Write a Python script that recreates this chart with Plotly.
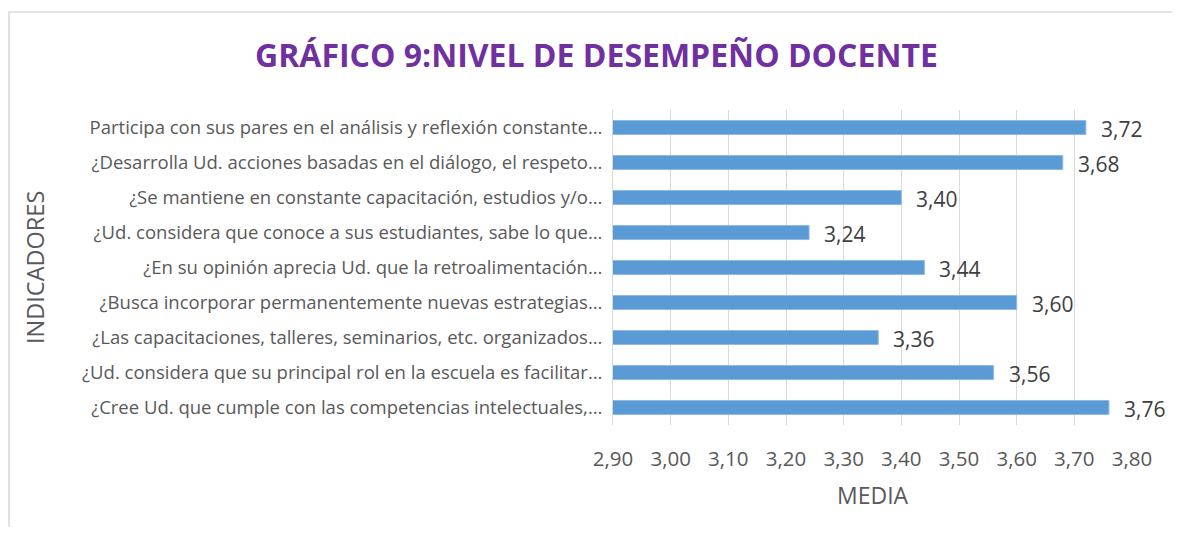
import plotly.graph_objects as go

categories = [
    "Participa con sus pares en el análisis y reflexión constante…",
    "¿Desarrolla Ud. acciones basadas en el diálogo, el respeto…",
    "¿Se mantiene en constante capacitación, estudios y/o…",
    "¿Ud. considera que conoce a sus estudiantes, sabe lo que…",
    "¿En su opinión aprecia Ud. que la retroalimentación…",
    "¿Busca incorporar permanentemente nuevas estrategias…",
    "¿Las capacitaciones, talleres, seminarios, etc. organizados…",
    "¿Ud. considera que su principal rol en la escuela es facilitar…",
    "¿Cree Ud. que cumple con las competencias intelectuales,…",
]
values = [3.72, 3.68, 3.40, 3.24, 3.44, 3.60, 3.36, 3.56, 3.76]
title_text = "GRÁFICO 9:NIVEL DE DESEMPEÑO DOCENTE"
x_title = "MEDIA"
y_title = "INDICADORES"

FONT = "Open Sans"
OFF = 8  # page body margin
W, H = 1180 - 2 * OFF, 535 - 2 * OFF
L = 613 - OFF
R = W - (1132 - OFF)
T = 110 - OFF
B = H - (425 - OFF)
pw = W - L - R
ph = H - T - B


def px_x(p):
    return (p - OFF - L) / pw


def px_y(p):
    return (H - B - (p - OFF)) / ph


fig = go.Figure()
fig.add_trace(go.Bar(
    x=values, y=categories, orientation="h",
    marker=dict(color="#5B9BD5", line=dict(color="#8FBBE6", width=1)),
    width=0.4, hoverinfo="x+y",
))

for c, v in zip(categories, values):
    fig.add_annotation(x=v, y=c, xref="x", yref="y", text=f"{v:.2f}".replace(".", ","),
                       showarrow=False, xanchor="left", xshift=13, yshift=-1,
                       font=dict(family=FONT, size=21, color="#404040"))

fig.add_shape(type="rect", xref="paper", yref="paper",
              x0=px_x(9), x1=px_x(1200), y0=px_y(560), y1=px_y(12),
              line=dict(color="#D9D9D9", width=1.5), layer="below")

fig.add_annotation(x=px_x(596), y=px_y(55), xref="paper", yref="paper",
                   text=f"<b>{title_text}</b>", showarrow=False, xanchor="center",
                   yanchor="middle", font=dict(family=FONT, size=32, color="#7030A0"))
fig.add_annotation(x=px_x(35), y=px_y(268), xref="paper", yref="paper", text=y_title,
                   textangle=-90, showarrow=False, xanchor="center", yanchor="middle",
                   font=dict(family=FONT, size=23.5, color="#595959"))
fig.add_annotation(x=0.5, y=px_y(495), xref="paper", yref="paper", text=x_title,
                   showarrow=False, xanchor="center", yanchor="middle",
                   font=dict(family=FONT, size=23, color="#595959"))

fig.update_layout(
    width=W, height=H, margin=dict(l=L, r=R, t=T, b=B),
    plot_bgcolor="white", paper_bgcolor="white", showlegend=False,
    separators=",.", bargap=0.6,
    xaxis=dict(range=[2.9, 3.8], dtick=0.1, tick0=2.9, tickformat=".2f",
               showgrid=True, gridcolor="#D9D9D9", gridwidth=1, zeroline=False,
               showline=False, ticks="", ticklabelstandoff=19,
               tickfont=dict(family=FONT, size=20.5, color="#595959")),
    yaxis=dict(autorange="reversed", showgrid=False, showline=True, linecolor="#D9D9D9",
               ticks="", ticklabelstandoff=6, automargin=False,
               tickfont=dict(family=FONT, size=18.5, color="#595959")),
)
fig.write_html("out.html")
